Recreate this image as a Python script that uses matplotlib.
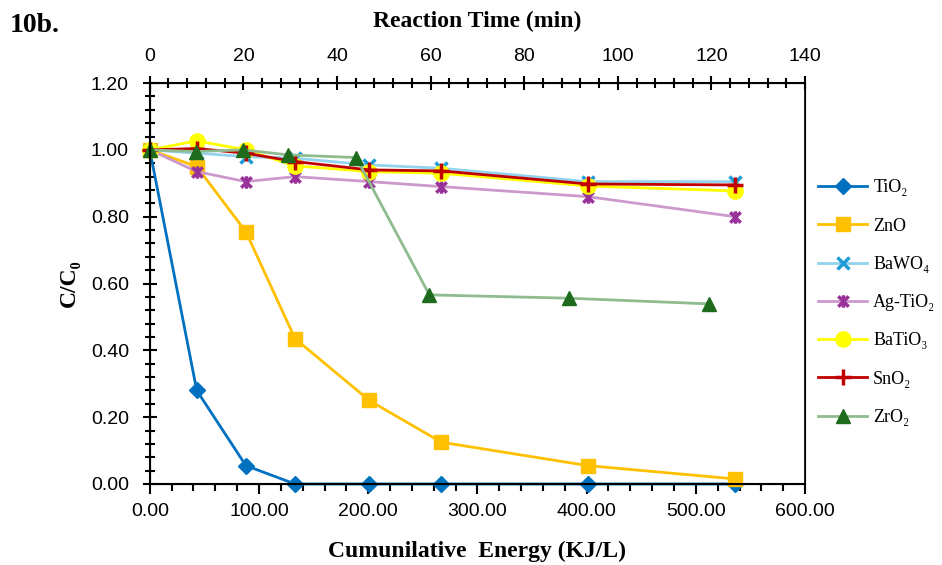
import matplotlib
matplotlib.use("Agg")
import matplotlib.pyplot as plt
from matplotlib.path import Path
from matplotlib.ticker import MultipleLocator, FormatStrFormatter

# cumulative energy (KJ/L) for each sample point
energy = [0, 43, 88, 133, 201, 267, 401, 536]
energy_zr = [0, 42, 85, 127, 189, 256, 384, 512]

tio2 = [1.00, 0.28, 0.055, 0.0, 0.0, 0.0, 0.0, 0.0]
zno = [1.00, 0.95, 0.755, 0.435, 0.25, 0.125, 0.055, 0.015]
bawo4 = [1.00, 0.99, 0.98, 0.975, 0.955, 0.945, 0.905, 0.905]
agtio2 = [1.00, 0.935, 0.905, 0.92, 0.905, 0.89, 0.86, 0.80]
batio3 = [1.00, 1.027, 1.00, 0.952, 0.935, 0.93, 0.892, 0.877]
sno2 = [1.00, 1.004, 0.99, 0.965, 0.94, 0.937, 0.898, 0.895]
zro2 = [1.00, 0.995, 1.00, 0.985, 0.977, 0.566, 0.556, 0.539]

# excel style "star": an x with a vertical bar
star = Path([(-1, -1), (1, 1), (-1, 1), (1, -1), (0, -1.2), (0, 1.2)],
            [Path.MOVETO, Path.LINETO, Path.MOVETO, Path.LINETO, Path.MOVETO, Path.LINETO])

sans = ["Liberation Sans", "DejaVu Sans"]
serif = ["Liberation Serif", "DejaVu Serif"]

fig = plt.figure(figsize=(9.42, 5.65), dpi=100)
ax = fig.add_axes([0.159, 0.1434, 0.6956, 0.7096])

series = [
    ("TiO\u2082", energy, tio2, dict(color="#0070C0", marker="D", ms=8, mfc="#0070C0", mec="#0070C0")),
    ("ZnO", energy, zno, dict(color="#FFC000", marker="s", ms=10, mfc="#FFC000", mec="#FFC000")),
    ("BaWO\u2084", energy, bawo4, dict(color="#92D3EE", marker="x", ms=8, mec="#1F9BD7", mew=2.5)),
    ("Ag-TiO\u2082", energy, agtio2, dict(color="#CC99CC", marker=star, ms=9, mec="#993399", mew=2.5)),
    ("BaTiO\u2083", energy, batio3, dict(color="#FFFF00", marker="o", ms=11, mfc="#FFFF00", mec="#FFFF00")),
    ("SnO\u2082", energy, sno2, dict(color="#C00000", marker="+", ms=12, mec="#C00000", mew=2.5)),
    ("ZrO\u2082", energy_zr, zro2, dict(color="#8FBC8F", marker="^", ms=10, mfc="#1E6B1E", mec="#1E6B1E")),
]
for name, xs, ys, st in series:
    ax.plot(xs, ys, lw=2, label=name, clip_on=False, **st)

ax.set_xlim(0, 600)
ax.set_ylim(0, 1.2)
ax.xaxis.set_major_locator(MultipleLocator(100))
ax.xaxis.set_minor_locator(MultipleLocator(20))
ax.yaxis.set_major_locator(MultipleLocator(0.2))
ax.yaxis.set_minor_locator(MultipleLocator(0.04))
ax.xaxis.set_major_formatter(FormatStrFormatter("%.2f"))
ax.yaxis.set_major_formatter(FormatStrFormatter("%.2f"))
ax.tick_params(axis="x", which="major", direction="out", length=7, width=1.5, labelsize=14, pad=7)
ax.tick_params(axis="x", which="minor", direction="out", length=5, width=1.5)
ax.tick_params(axis="y", which="major", direction="inout", length=10, width=1.5, labelsize=14, pad=10)
ax.tick_params(axis="y", which="minor", direction="inout", length=7, width=1.5)
for lab in ax.get_xticklabels() + ax.get_yticklabels():
    lab.set_family(sans)
for s in ax.spines.values():
    s.set_linewidth(1.5)
ax.spines["right"].set_linewidth(1.2)

ax.set_xlabel("Cumunilative  Energy (KJ/L)", family=serif, fontweight="bold", fontsize=17, labelpad=15)
ax.set_ylabel("C/C\u2080", family=serif, fontweight="bold", fontsize=17, labelpad=8)

top = ax.twiny()
top.set_xlim(0, 140)
top.xaxis.set_major_locator(MultipleLocator(20))
top.xaxis.set_minor_locator(MultipleLocator(4))
top.tick_params(axis="x", which="major", direction="inout", length=10, width=1.5, labelsize=14, pad=8)
top.tick_params(axis="x", which="minor", direction="inout", length=7, width=1.5)
for lab in top.get_xticklabels():
    lab.set_family(sans)
top.set_xlabel("Reaction Time (min)", family=serif, fontweight="bold", fontsize=17, labelpad=15)

fig.text(0.01, 0.955, "10b.", family=serif, fontweight="bold", fontsize=20, va="center")

ax.legend(loc="upper left", bbox_to_anchor=(1.02, 0.76), frameon=False,
          prop={"family": serif, "size": 13}, handlelength=2.7, labelspacing=1.18,
          handletextpad=0.35, borderaxespad=0, borderpad=0)

fig.savefig("out.png", dpi=100)
